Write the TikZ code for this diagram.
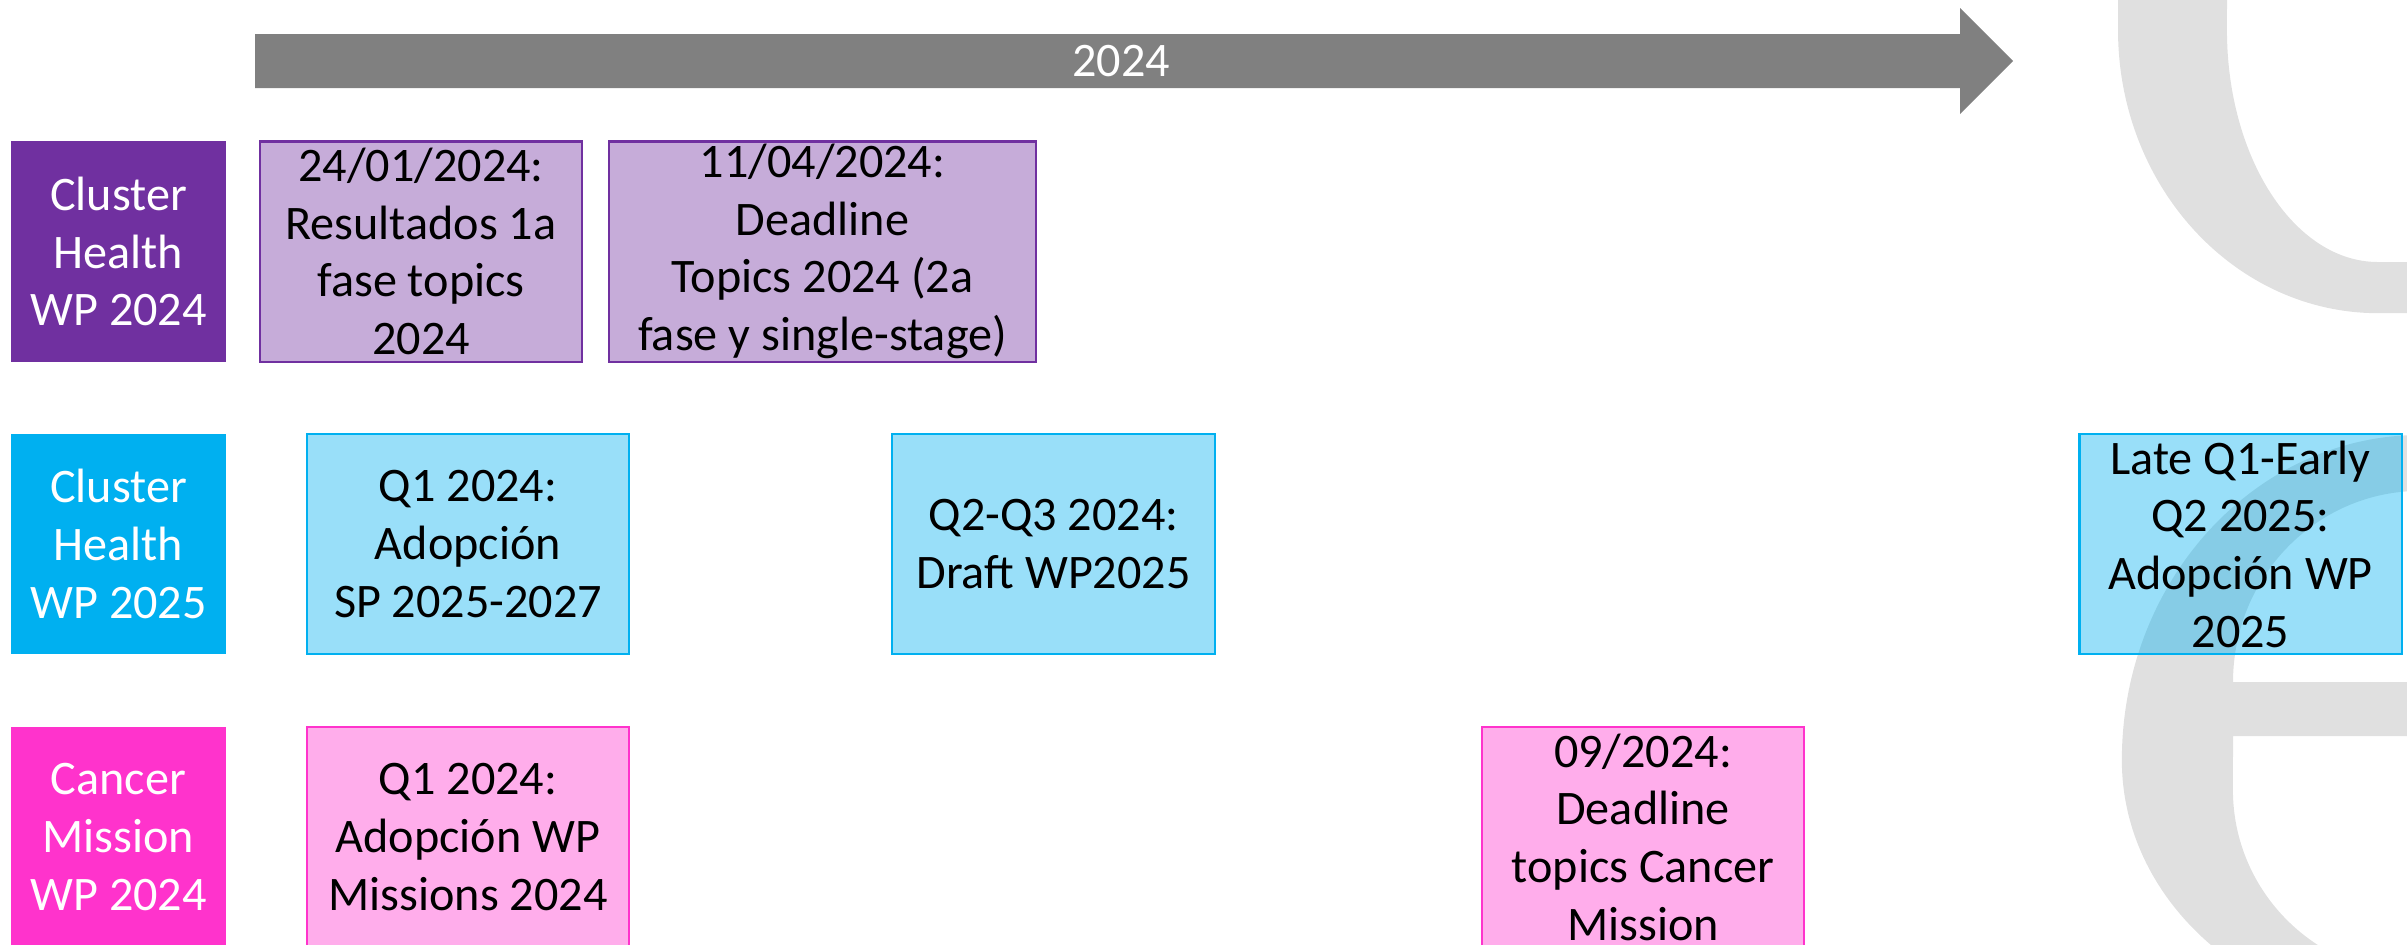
\documentclass[tikz,border=0pt]{standalone}
\usepackage{fontspec}
\setmainfont{Carlito}
\usepackage{tikz}

\definecolor{healthpurple}{HTML}{7030A0}
\definecolor{healthcyan}{HTML}{00B0F0}
\definecolor{missionpink}{HTML}{FF33CC}
\definecolor{arrowgrey}{HTML}{808080}
\definecolor{logogrey}{HTML}{E0E0E0}

\tikzset{
    rowlabel/.style={rectangle, fill=#1, inner sep=0pt, minimum width=2.15cm,
        minimum height=2.2cm, align=center, text=white,
        font=\fontsize{13.7}{16.4}\selectfont},
    eventbox/.style={rectangle, draw=#1, fill=#1, fill opacity=0.4,
        text opacity=1, line width=0.6pt, inner sep=0pt, minimum width=3.22cm,
        minimum height=2.2cm, align=center,
        font=\fontsize{13.7}{16.4}\selectfont},
}

\begin{document}
\begin{tikzpicture}[x=0.01cm, y=-0.01cm]
    \useasboundingbox (0,0) rectangle (2407,944);

    % logo in the background
    \fill[logogrey] (2118,-10) -- (2118,30)
        arc[start angle=180, end angle=270, x radius=2.60cm, y radius=2.83cm]
        -- (2420,313) -- (2420,262) -- (2378,262)
        arc[start angle=270, end angle=180, x radius=1.51cm, y radius=2.32cm]
        -- (2227,-10) -- cycle;

    \fill[logogrey] (2420,435)
        arc[start angle=90, end angle=180, x radius=2.98cm, y radius=3.25cm]
        arc[start angle=180, end angle=270, x radius=2.98cm, y radius=2.59cm]
        -- (2420,975)
        arc[start angle=270, end angle=180, x radius=1.87cm, y radius=1.85cm]
        -- (2233,736) -- (2420,736) -- (2420,682) -- (2233,682)
        arc[start angle=180, end angle=90, x radius=1.87cm, y radius=1.91cm]
        -- cycle;

    % timeline
    \fill[arrowgrey] (255,34) -- (1960,34) -- (1960,8) -- (2013,61)
        -- (1960,114) -- (1960,88) -- (255,88) -- cycle;
    \node[text=white, font=\fontsize{13.7}{16.4}\selectfont] (year) at (1121,61) {2024};

    \node[rowlabel=healthpurple] (healthA) at (118.5,251.5) {Cluster\\Health\\WP 2024};
    \node[eventbox=healthpurple] (resultados) at (421,251.5) {24/01/2024:\\Resultados 1a\\fase topics\\2024};
    \node[eventbox=healthpurple, minimum width=4.27cm] (deadlineA) at (822.5,251.5) {11/04/2024:\\Deadline\\Topics 2024 (2a\\fase y single-stage)};

    \node[rowlabel=healthcyan] (healthB) at (118.5,544) {Cluster\\Health\\WP 2025};
    \node[eventbox=healthcyan] (adopcionSP) at (468,544) {Q1 2024:\\Adopción\\SP 2025-2027};
    \node[eventbox=healthcyan] (draft) at (1053.5,544) {Q2-Q3 2024:\\Draft WP2025};
    \node[eventbox=healthcyan] (adopcionWP) at (2240.5,544) {Late Q1-Early\\Q2 2025:\\Adopción WP\\2025};

    \node[rowlabel=missionpink] (cancer) at (118.5,837) {Cancer\\Mission\\WP 2024};
    \node[eventbox=missionpink] (missions) at (468,837) {Q1 2024:\\Adopción WP\\Missions 2024};
    \node[eventbox=missionpink] (deadlineB) at (1643,837) {09/2024:\\Deadline\\topics Cancer\\Mission};
\end{tikzpicture}
\end{document}
